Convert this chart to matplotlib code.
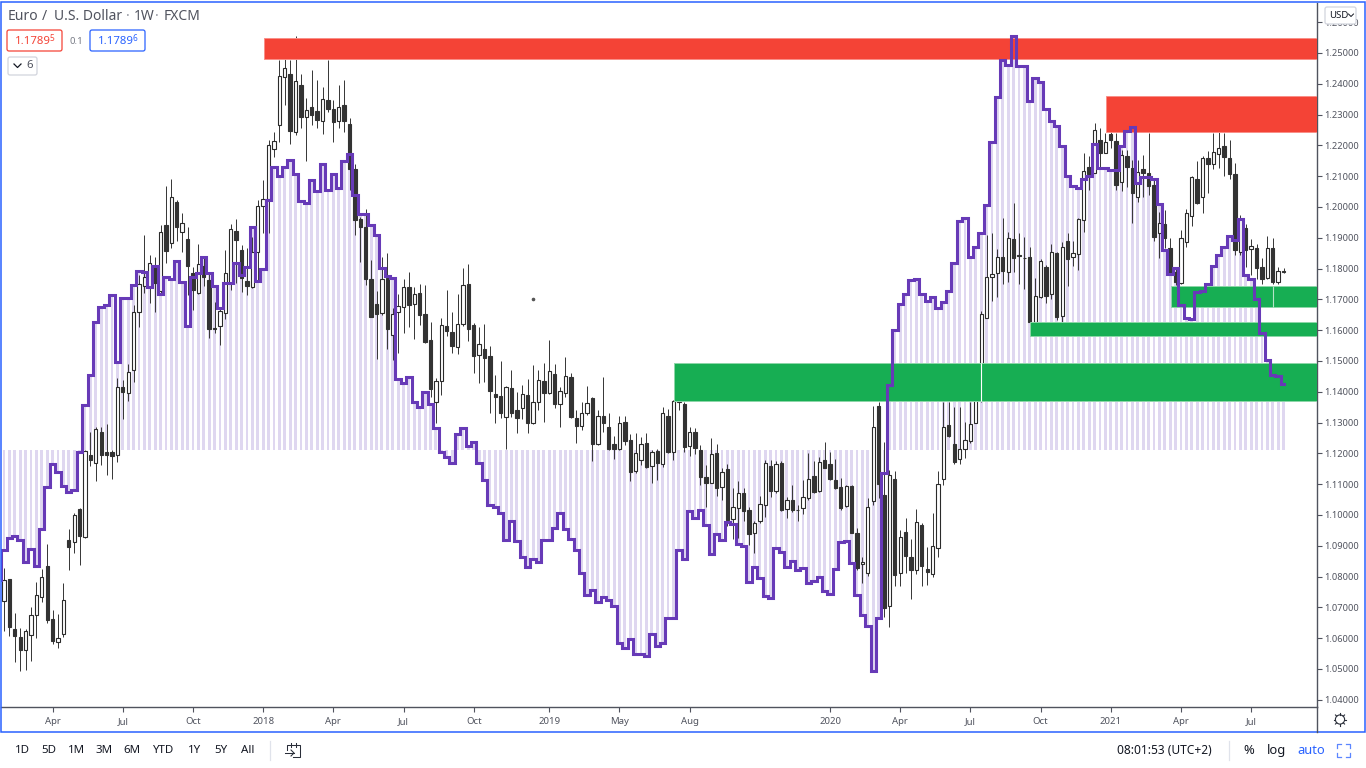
import numpy as np
import matplotlib
matplotlib.use('Agg')
from matplotlib import pyplot as plt
from matplotlib.patches import Rectangle, FancyBboxPatch, Circle

# weekly candles, EUR/USD
opens = [1.0721,1.0791,1.0629,1.0605,1.0562,1.0610,1.0675,1.0734,1.0833,1.0661,
1.0588,1.0615,1.0920,1.0912,1.1018,1.0928,1.1195,1.1169,1.1270,1.1206,
1.1206,1.1195,1.1416,1.1396,1.1470,1.1658,1.1745,1.1739,1.1810,1.1727,
1.1941,1.1882,1.2015,1.1920,1.1897,1.1785,1.1722,1.1810,1.1763,1.1606,
1.1612,1.1655,1.1752,1.1922,1.1860,1.1761,1.1739,1.1855,1.2003,1.2025,
1.2188,1.2266,1.2421,1.2432,1.2245,1.2396,1.2291,1.2326,1.2312,1.2279,
1.2347,1.2317,1.2280,1.2331,1.2271,1.2123,1.1961,1.1934,1.1765,1.1684,
1.1657,1.1771,1.1584,1.1660,1.1674,1.1740,1.1685,1.1722,1.1654,1.1568,
1.1368,1.1436,1.1613,1.1593,1.1544,1.1621,1.1749,1.1617,1.1519,1.1538,
1.1515,1.1393,1.1386,1.1319,1.1412,1.1341,1.1348,1.1390,1.1298,1.1366,
1.1436,1.1395,1.1457,1.1359,1.1397,1.1447,1.1314,1.1289,1.1332,1.1381,
1.1230,1.1320,1.1287,1.1230,1.1214,1.1301,1.1244,1.1143,1.1177,1.1234,
1.1159,1.1207,1.1165,1.1322,1.1206,1.1366,1.1360,1.1225,1.1269,1.1211,
1.1124,1.1105,1.1201,1.1090,1.1150,1.0987,1.1024,1.1071,1.1017,1.0941,
1.0979,1.1031,1.1159,1.1079,1.1168,1.1021,1.1049,1.1016,1.1024,1.1054,
1.1127,1.1079,1.1177,1.1165,1.1114,1.1092,1.1030,1.1095,1.0943,1.0840,
1.0813,1.1044,1.1354,1.1065,1.0706,1.1117,1.0811,1.0946,1.0863,1.0822,
1.0966,1.0825,1.0809,1.0893,1.1116,1.1293,1.1231,1.1181,1.1214,1.1240,
1.1300,1.1372,1.1641,1.1772,1.1785,1.1837,1.1789,1.1897,1.1844,1.1836,
1.1839,1.1628,1.1709,1.1806,1.1717,1.1850,1.1646,1.1889,1.1839,1.1847,
1.1958,1.2129,1.2111,1.2217,1.2176,1.2236,1.2215,1.2080,1.2165,1.2125,
1.2033,1.2122,1.2109,1.2071,1.1914,1.1945,1.1868,1.1790,1.1754,1.1887,
1.1971,1.2090,1.2031,1.2160,1.2141,1.2171,1.2198,1.2160,1.2107,1.1853,
1.1931,1.1863,1.1868,1.1806,1.1768,1.1866,1.1755,1.1790]

closes = [1.0788,1.0636,1.0607,1.0562,1.0623,1.0674,1.0739,1.0798,1.0658,1.0591,
1.0602,1.0725,1.0896,1.1000,1.0931,1.1207,1.1180,1.1279,1.1194,1.1194,
1.1190,1.1415,1.1398,1.1465,1.1660,1.1749,1.1772,1.1817,1.1754,1.1918,
1.1858,1.2034,1.1936,1.1947,1.1810,1.1731,1.1814,1.1774,1.1604,1.1604,
1.1663,1.1785,1.1928,1.1893,1.1768,1.1745,1.1855,1.2003,1.2025,1.2200,
1.2213,1.2426,1.2452,1.2247,1.2409,1.2291,1.2315,1.2300,1.2282,1.2350,
1.2317,1.2277,1.2326,1.2280,1.2123,1.1957,1.1934,1.1765,1.1644,1.1652,
1.1765,1.1604,1.1654,1.1680,1.1739,1.1683,1.1716,1.1650,1.1563,1.1409,
1.1436,1.1616,1.1598,1.1548,1.1619,1.1746,1.1603,1.1517,1.1555,1.1511,
1.1402,1.1384,1.1332,1.1416,1.1332,1.1316,1.1392,1.1300,1.1368,1.1438,
1.1395,1.1468,1.1359,1.1404,1.1452,1.1319,1.1289,1.1330,1.1363,1.1231,
1.1323,1.1298,1.1215,1.1214,1.1298,1.1241,1.1139,1.1201,1.1231,1.1155,
1.1203,1.1168,1.1330,1.1204,1.1370,1.1420,1.1222,1.1269,1.1219,1.1123,
1.1105,1.1197,1.1087,1.1139,1.0984,1.1025,1.1071,1.1014,1.0939,1.0973,
1.1036,1.1170,1.1078,1.1165,1.1017,1.1049,1.1017,1.1015,1.1059,1.1118,
1.1076,1.1173,1.1154,1.1116,1.1087,1.1024,1.1095,1.0943,1.0827,1.0846,
1.1025,1.1285,1.1101,1.0697,1.1130,1.0806,1.0930,1.0868,1.0820,1.0977,
1.0835,1.0816,1.0898,1.1099,1.1287,1.1255,1.1173,1.1214,1.1242,1.1296,
1.1420,1.1652,1.1774,1.1781,1.1839,1.1792,1.1899,1.1833,1.1842,1.1833,
1.1628,1.1712,1.1826,1.1712,1.1855,1.1642,1.1869,1.1832,1.1852,1.1960,
1.2118,1.2107,1.2250,1.2176,1.2212,1.2217,1.2071,1.2169,1.2131,1.2044,
1.2114,1.2111,1.2068,1.1903,1.1947,1.1900,1.1790,1.1757,1.1898,1.1979,
1.2096,1.2014,1.2160,1.2141,1.2177,1.2190,1.2163,1.2106,1.1860,1.1960,
1.1860,1.1874,1.1801,1.1765,1.1866,1.1755,1.1792,1.1789]

highs = [1.0829,1.0793,1.0683,1.0634,1.0631,1.0702,1.0783,1.0825,1.0906,1.0690,
1.0680,1.0778,1.0953,1.1007,1.1023,1.1212,1.1268,1.1285,1.1285,1.1296,
1.1212,1.1444,1.1439,1.1491,1.1682,1.1779,1.1909,1.1844,1.1837,1.1942,
1.2069,1.2091,1.2023,1.1980,1.1934,1.1806,1.1880,1.1839,1.1790,1.1693,
1.1671,1.1860,1.1945,1.1960,1.1877,1.1866,1.1902,1.2023,1.2088,1.2218,
1.2245,1.2477,1.2483,1.2477,1.2556,1.2432,1.2353,1.2445,1.2412,1.2388,
1.2477,1.2347,1.2396,1.2412,1.2288,1.2141,1.1968,1.1993,1.1828,1.1728,
1.1839,1.1849,1.1671,1.1719,1.1765,1.1790,1.1741,1.1750,1.1747,1.1625,
1.1444,1.1638,1.1730,1.1658,1.1719,1.1801,1.1814,1.1622,1.1609,1.1620,
1.1550,1.1454,1.1501,1.1418,1.1471,1.1400,1.1422,1.1442,1.1487,1.1471,
1.1494,1.1568,1.1489,1.1414,1.1512,1.1460,1.1341,1.1368,1.1419,1.1384,
1.1341,1.1447,1.1330,1.1257,1.1323,1.1323,1.1262,1.1266,1.1252,1.1266,
1.1211,1.1214,1.1350,1.1343,1.1374,1.1430,1.1368,1.1285,1.1282,1.1228,
1.1163,1.1249,1.1230,1.1152,1.1165,1.1087,1.1111,1.1087,1.1025,1.0979,
1.1063,1.1177,1.1179,1.1174,1.1174,1.1057,1.1098,1.1033,1.1114,1.1201,
1.1174,1.1188,1.1238,1.1206,1.1181,1.1119,1.1098,1.1098,1.0957,1.0865,
1.1054,1.1354,1.1368,1.1238,1.1146,1.1144,1.0952,1.0990,1.0923,1.1019,
1.0973,1.0895,1.1006,1.1144,1.1368,1.1368,1.1352,1.1350,1.1303,1.1368,
1.1470,1.1661,1.1909,1.1915,1.1864,1.1965,1.1918,1.2012,1.1915,1.1902,
1.1871,1.1768,1.1830,1.1812,1.1880,1.1855,1.1887,1.1917,1.1891,1.1963,
1.2174,1.2166,1.2272,1.2255,1.2239,1.2260,1.2239,1.2185,1.2185,1.2152,
1.2152,1.2169,1.2239,1.2087,1.1985,1.1990,1.1898,1.1801,1.1925,1.1995,
1.2100,1.2149,1.2165,1.2183,1.2239,1.2271,1.2239,1.2217,1.2144,1.1974,
1.1945,1.1895,1.1880,1.1833,1.1907,1.1898,1.1804,1.1801]

lows = [1.0623,1.0607,1.0523,1.0494,1.0497,1.0526,1.0602,1.0717,1.0650,1.0580,
1.0569,1.0604,1.0821,1.0875,1.0837,1.0924,1.1158,1.1109,1.1163,1.1131,
1.1117,1.1171,1.1311,1.1369,1.1432,1.1609,1.1720,1.1687,1.1660,1.1714,
1.1817,1.1866,1.1891,1.1855,1.1714,1.1666,1.1718,1.1744,1.1574,1.1590,
1.1552,1.1635,1.1731,1.1752,1.1725,1.1714,1.1736,1.1763,1.1915,1.1915,
1.2161,1.2212,1.2331,1.2205,1.2234,1.2255,1.2150,1.2266,1.2255,1.2237,
1.2310,1.2212,1.2255,1.2245,1.2055,1.1909,1.1820,1.1746,1.1642,1.1508,
1.1649,1.1539,1.1503,1.1525,1.1590,1.1609,1.1571,1.1617,1.1557,1.1384,
1.1298,1.1389,1.1581,1.1525,1.1523,1.1614,1.1566,1.1460,1.1428,1.1433,
1.1332,1.1300,1.1316,1.1214,1.1319,1.1265,1.1311,1.1267,1.1296,1.1341,
1.1303,1.1393,1.1346,1.1285,1.1384,1.1314,1.1233,1.1276,1.1325,1.1176,
1.1228,1.1271,1.1211,1.1181,1.1211,1.1228,1.1109,1.1136,1.1163,1.1152,
1.1105,1.1114,1.1157,1.1201,1.1179,1.1341,1.1206,1.1192,1.1198,1.1098,
1.1025,1.1103,1.1063,1.1049,1.0963,1.0923,1.0925,1.0979,1.0903,1.0876,
1.0973,1.0992,1.1060,1.1073,1.1013,1.0990,1.1011,1.0979,1.1003,1.1049,
1.1071,1.1076,1.1152,1.1114,1.1085,1.1017,1.1027,1.0941,1.0822,1.0779,
1.0802,1.1033,1.1054,1.0670,1.0636,1.0770,1.0768,1.0811,1.0727,1.0809,
1.0768,1.0773,1.0800,1.0865,1.1098,1.1252,1.1166,1.1166,1.1184,1.1233,
1.1298,1.1366,1.1639,1.1695,1.1709,1.1750,1.1758,1.1790,1.1750,1.1733,
1.1625,1.1625,1.1703,1.1687,1.1700,1.1633,1.1628,1.1745,1.1809,1.1795,
1.1920,1.2055,1.2109,1.2125,1.2174,1.2190,1.2055,1.2052,1.2066,1.1949,
1.2015,1.2033,1.2039,1.1891,1.1833,1.1866,1.1779,1.1747,1.1750,1.1869,
1.1939,1.2010,1.1982,1.2044,1.2123,1.2125,1.2100,1.2090,1.1844,1.1844,
1.1806,1.1779,1.1765,1.1750,1.1765,1.1750,1.1750,1.1785]

# purple stepped indicator, first value is the week before the first candle
indicator_x = list(range(-1, 238))
indicator = [1.0789,
1.0885,1.0925,1.0932,1.0919,1.0847,1.0890,1.0836,1.0955,1.1092,1.1165,
1.1141,1.1095,1.1076,1.1082,1.1206,1.1357,1.1455,1.1626,1.1674,1.1682,
1.1714,1.1498,1.1704,1.1704,1.1747,1.1792,1.1790,1.1739,1.1808,1.1718,
1.1774,1.1765,1.1825,1.1758,1.1612,1.1774,1.1787,1.1837,1.1785,1.1744,
1.1671,1.1752,1.1752,1.1817,1.1779,1.1806,1.1934,1.1760,1.1798,1.2023,
1.2131,1.2099,1.2131,1.2153,1.2106,1.2020,1.2012,1.2088,1.2053,1.2140,
1.2055,1.2107,1.2063,1.2149,1.2172,1.2039,1.1976,1.1976,1.1941,1.1909,
1.1803,1.1777,1.1771,1.1441,1.1429,1.1449,1.1368,1.1351,1.1400,1.1360,
1.1281,1.1203,1.1187,1.1170,1.1263,1.1284,1.1224,1.1238,1.1170,1.1112,
1.1031,1.1025,1.1006,1.0919,1.0981,1.0916,1.0865,1.0830,1.0858,1.0847,
1.0919,1.0919,1.0957,1.1006,1.0955,1.0921,1.0887,1.0811,1.0741,1.0757,
1.0719,1.0735,1.0725,1.0706,1.0586,1.0568,1.0597,1.0549,1.0549,1.0543,
1.0613,1.0575,1.0584,1.0665,1.0667,1.0885,1.0858,1.1013,1.0990,1.1017,
1.0968,1.0873,1.0938,1.0919,1.0977,1.0970,1.0905,1.0898,1.0782,1.0831,
1.0795,1.0737,1.0730,1.0892,1.0879,1.0831,1.0849,1.0822,1.0827,1.0779,
1.0787,1.0800,1.0752,1.0743,1.0825,1.0911,1.0916,1.0844,1.0741,1.0674,
1.0638,1.0492,1.0665,1.1136,1.1422,1.1601,1.1684,1.1718,1.1763,1.1766,
1.1718,1.1696,1.1707,1.1671,1.1690,1.1728,1.1817,1.1956,1.1963,1.1839,
1.1871,1.1915,1.2006,1.2210,1.2356,1.2477,1.2461,1.2555,1.2458,1.2458,
1.2344,1.2420,1.2405,1.2318,1.2280,1.2264,1.2198,1.2102,1.2069,1.2061,
1.2090,1.2101,1.2204,1.2125,1.2125,1.2120,1.2120,1.2199,1.2248,1.2261,
1.2079,1.2098,1.2098,1.2090,1.2010,1.1860,1.1784,1.1803,1.1682,1.1641,
1.1636,1.1725,1.1728,1.1750,1.1808,1.1844,1.1871,1.1906,1.1893,1.1960,
1.1779,1.1766,1.1700,1.1590,1.1503,1.1454,1.1452,1.1425]
hist_base = 1.1212

# zones: first week, lower price, upper price
red_zones = [(48.2, 1.2482, 1.2549), (204.2, 1.2242, 1.2361)]
green_zones = [(124.1, 1.1370, 1.1493), (190.1, 1.1581, 1.1626), (216.2, 1.1676, 1.1744)]

price_ticks = [1.04,1.05,1.06,1.07,1.08,1.09,1.10,1.11,1.12,1.13,1.14,1.15,1.16,1.17,
               1.18,1.19,1.20,1.21,1.22,1.23,1.24,1.25,1.26]
week_ticks = [9,22,35,48,61,74,87,101,114,127,153,166,179,192,205,218,231]
week_labels = ['Apr','Jul','Oct','2018','Apr','Jul','Oct','2019','May','Aug','2020',
               'Apr','Jul','Oct','2021','Apr','Jul']
range_buttons = ['1D','5D','1M','3M','6M','YTD','1Y','5Y','All']

FONT = 'Noto Sans'
plt.rcParams['font.family'] = [FONT, 'DejaVu Sans']
UP_EDGE = '#2b2b2b'
BODY = '#333333'
GREY = '#50535e'
BLUE = '#2962ff'

fig = plt.figure(figsize=(13.66, 7.68), dpi=100)
ax = fig.add_axes([1/1366, 61/768, 1316/1366, 704/768])

x = np.arange(len(opens))
o = np.array(opens)
c = np.array(closes)
up = c >= o

# lavender stripes, then candles, then zones, indicator on top
vals = np.array(indicator[1:])
ax.bar(x, vals - hist_base, bottom=hist_base, width=0.53, color='#dfd7f0', linewidth=0, zorder=1)
ax.vlines(x, lows, highs, color='#3a3a3a', linewidth=0.72, zorder=2)
ax.bar(x[up], np.maximum(c[up] - o[up], 0.0002), bottom=o[up], width=0.62, facecolor='white',
       edgecolor=UP_EDGE, linewidth=0.8, zorder=3)
ax.bar(x[~up], np.maximum(o[~up] - c[~up], 0.0002), bottom=c[~up], width=0.62, facecolor=BODY,
       edgecolor=BODY, linewidth=0.8, zorder=3)

for start, lo, hi in red_zones:
    ax.add_patch(Rectangle((start, lo), 300 - start, hi - lo, facecolor='#f44336',
                           edgecolor='#f98f88', linewidth=0.7, zorder=4))
for start, lo, hi in green_zones:
    ax.add_patch(Rectangle((start, lo), 300 - start, hi - lo, facecolor='#17ae53',
                           edgecolor='#8ed6a9', linewidth=0.7, zorder=4))

# thin light slits that cut through the green zones
ax.vlines([181], [1.1370], [1.1493], color='white', linewidth=0.8, zorder=4.5)
ax.vlines([235], [1.1676], [1.1744], color='#b5e3c7', linewidth=0.8, zorder=4.5)
ax.plot([98.05], [1.1701], marker='o', markersize=1.6, color='#555555', zorder=3)

ax.plot(indicator_x, indicator, drawstyle='steps-mid', color='#673ab7', linewidth=2.2,
        solid_joinstyle='miter', zorder=5)

ax.set_xlim(-0.556, 243.2)
ax.set_ylim(1.03766, 1.26623)
ax.yaxis.tick_right()
ax.set_yticks(price_ticks)
ax.set_yticklabels(['%.5f' % p for p in price_ticks])
ax.set_xticks(week_ticks)
ax.set_xticklabels(week_labels)
ax.tick_params(axis='y', length=3.5, width=0.8, color=GREY, labelcolor=GREY, labelsize=6.7, pad=2)
ax.tick_params(axis='x', length=3.5, width=0.8, color=GREY, labelcolor=GREY, labelsize=6.9, pad=3.5)
for lab in ax.get_xticklabels():
    if lab.get_text().isdigit():
        lab.set_fontweight('bold')
for side in ['top', 'left']:
    ax.spines[side].set_visible(False)
for side in ['right', 'bottom']:
    ax.spines[side].set_color(GREY)
    ax.spines[side].set_linewidth(1.0)

# everything round the chart, in pixels of the window
ui = fig.add_axes([0, 0, 1, 1], zorder=10)
ui.set_xlim(0, 1366)
ui.set_ylim(768, 0)
ui.axis('off')
ui.patch.set_alpha(0)

ui.add_patch(Rectangle((0.7, 1.5), 1364.6, 730.5, fill=False, edgecolor=BLUE, linewidth=1.1))
ui.plot([1317, 1317], [707, 732], color=GREY, linewidth=1.0)


def box(x0, y0, w, h, edge, lw=0.9):
    ui.add_patch(FancyBboxPatch((x0 + 2, y0 + 2), w - 4, h - 4, boxstyle='round,pad=2', facecolor='white',
                                edgecolor=edge, linewidth=lw))


ui.text(8, 16, 'Euro', fontsize=10, color=GREY, va='center', ha='left')
ui.text(44, 16, '/', fontsize=10, color=GREY, va='center', ha='center')
ui.text(54, 16, 'U.S. Dollar', fontsize=10, color=GREY, va='center', ha='left')
ui.text(127.5, 16, '·', fontsize=10, color='#9598a1', va='center', ha='center')
ui.text(134, 16, '1W', fontsize=10, color=GREY, va='center', ha='left')
ui.text(157, 16, '·', fontsize=10, color='#9598a1', va='center', ha='center')
ui.text(164, 16, 'FXCM', fontsize=10, color=GREY, va='center', ha='left')

box(7, 30, 55, 21, '#f44336')
ui.text(15, 41, '1.1789', fontsize=8.2, color='#f44336', va='center', ha='left')
ui.text(49.5, 38.5, '5', fontsize=6, color='#f44336', va='center', ha='left')
ui.text(69, 41, '0.1', fontsize=6.9, color='#787b86', va='center', ha='left')
box(90, 30, 55, 21, BLUE)
ui.text(98, 41, '1.1789', fontsize=8.2, color=BLUE, va='center', ha='left')
ui.text(132.5, 38.5, '6', fontsize=6, color=BLUE, va='center', ha='left')

box(8, 57, 29, 18, '#d1d4dc')
ui.plot([14, 17.5, 21], [64, 67.5, 64], color='#131722', linewidth=0.9)
ui.text(26, 66, '6', fontsize=8.2, color=GREY, va='center', ha='left')

box(1325, 7, 31, 17, '#d1d4dc')
ui.text(1329, 15.5, 'USD', fontsize=6.9, color='#131722', va='center', ha='left')
ui.plot([1348.5, 1351, 1353.5], [14, 16.5, 14], color='#131722', linewidth=0.7)

# bottom toolbar
button_x = [22, 49, 77, 104, 132, 164, 195, 221, 248]
for label, bx in zip(range_buttons, button_x):
    ui.text(bx, 750.5, label, fontsize=8.3, color='#131722', va='center', ha='center')
ui.plot([270, 270], [741, 760], color='#e0e3eb', linewidth=0.9)
ui.plot([1228.5, 1228.5], [741, 760], color='#e0e3eb', linewidth=0.9)

# calendar icon
ui.plot([287, 287, 300, 300, 293], [750, 745, 745, 757, 757], color='#2a2e39', linewidth=0.75)
ui.plot([291, 291], [743, 747], color='#2a2e39', linewidth=0.75)
ui.plot([296, 296], [743, 747], color='#2a2e39', linewidth=0.75)
ui.plot([285, 294], [753, 753], color='#2a2e39', linewidth=0.75)
ui.plot([291, 294, 291], [750, 753, 756], color='#2a2e39', linewidth=0.75)

ui.text(1164.5, 750.5, '08:01:53 (UTC+2)', fontsize=8.6, color='#131722', va='center', ha='center')
ui.text(1249, 750.5, '%', fontsize=9.3, color='#131722', va='center', ha='center')
ui.text(1277, 750.5, 'log', fontsize=9.3, color='#131722', va='center', ha='center')
ui.text(1311, 750.5, 'auto', fontsize=9.3, color=BLUE, va='center', ha='center')

# fullscreen corners
for cx, cy, dx, dy in [(1337, 744, 1, 1), (1350, 744, -1, 1), (1337, 757, 1, -1), (1350, 757, -1, -1)]:
    ui.plot([cx + 4 * dx, cx, cx], [cy, cy, cy + 4 * dy], color='#5c86ff', linewidth=0.9)

# gear
ui.add_patch(Circle((1340, 719.5), 4.6, fill=False, edgecolor='#2a2e39', linewidth=0.8))
for a in np.arange(0, 2 * np.pi, np.pi / 4):
    ui.plot([1340 + 4.6 * np.cos(a), 1340 + 6.4 * np.cos(a)], [719.5 + 4.6 * np.sin(a), 719.5 + 6.4 * np.sin(a)],
            color='#2a2e39', linewidth=0.8)

fig.savefig('out.png', dpi=100)
